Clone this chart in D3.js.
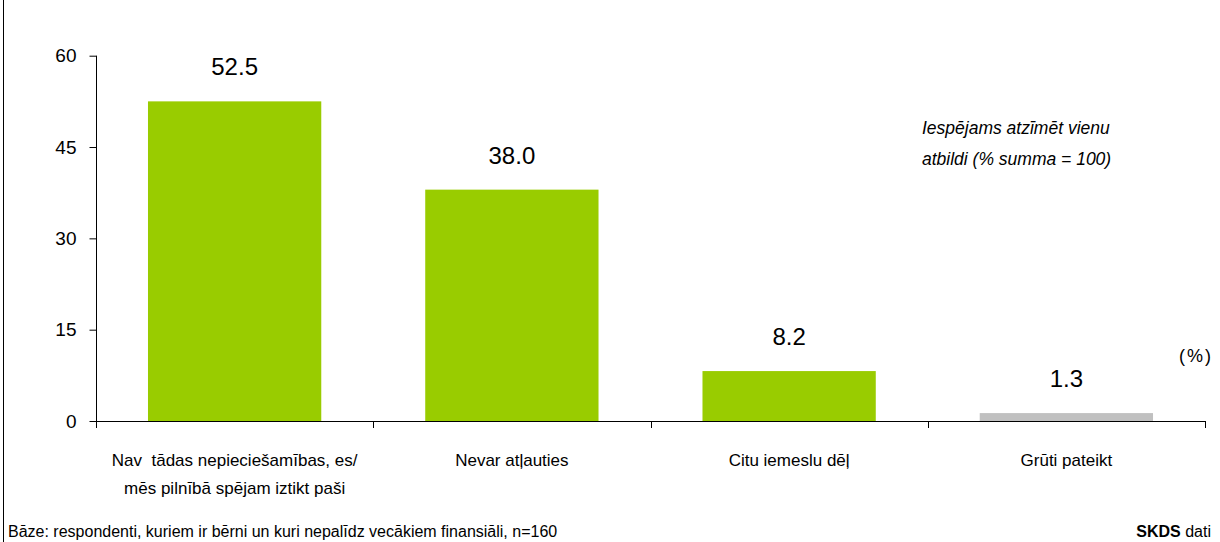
<!DOCTYPE html>
<html>
<head>
<meta charset="utf-8">
<script src="https://cdn.jsdelivr.net/npm/d3@7"></script>
<style>
  html, body { margin: 0; padding: 0; background: #fff; }
  svg { display: block; font-family: "Liberation Sans", Arial, sans-serif; }
</style>
</head>
<body>
<svg id="chart" width="1220" height="542"></svg>
<script>
const categories = [
  ["Nav  tādas nepieciešamības, es/", "mēs pilnībā spējam iztikt paši"],
  ["Nevar atļauties"],
  ["Citu iemeslu dēļ"],
  ["Grūti pateikt"]
];
const values = [52.5, 38.0, 8.2, 1.3];
const barColors = ["#99CC00", "#99CC00", "#99CC00", "#C0C0C0"];
const yTicks = [0, 15, 30, 45, 60];
const noteLines = ["Iespējams atzīmēt vienu", "atbildi (% summa = 100)"];
const unitLabel = "(%)";
const footerLeft = "Bāze: respondenti, kuriem ir bērni un kuri nepalīdz vecākiem finansiāli, n=160";

const svg = d3.select("#chart");
const plotLeft = 96, plotRight = 1205, plotTop = 55.7, plotBottom = 421;

const x = d3.scaleBand().domain(d3.range(values.length))
  .range([plotLeft, plotRight]).paddingInner(0.375).paddingOuter(0.1875);
const y = d3.scaleLinear().domain([0, 60]).range([plotBottom, plotTop]);

// left frame line
svg.append("line").attr("x1", 3.5).attr("x2", 3.5).attr("y1", 0).attr("y2", 542)
  .attr("stroke", "#000").attr("stroke-width", 1);

// bars
svg.selectAll("rect.bar").data(values).join("rect")
  .attr("class", "bar")
  .attr("x", (d, i) => x(i))
  .attr("width", x.bandwidth())
  .attr("y", d => y(d))
  .attr("height", d => y(0) - y(d))
  .attr("fill", (d, i) => barColors[i]);

// y axis
const yAxis = d3.axisLeft(y).tickValues(yTicks).tickSize(7).tickPadding(13).tickSizeOuter(0);
const gy = svg.append("g").attr("transform", `translate(${plotLeft + 0.5},0)`).call(yAxis);
gy.select(".domain").remove();
gy.append("line").attr("x1", 0).attr("x2", 0).attr("y1", plotTop).attr("y2", plotBottom + 7)
  .attr("stroke", "#000");
gy.selectAll(".tick line").attr("stroke", "#000");
gy.selectAll(".tick text").attr("font-size", 19).attr("fill", "#000")
  .attr("font-family", "Liberation Sans, Arial, sans-serif");

// x axis line and ticks at band boundaries
svg.append("line").attr("x1", plotLeft).attr("x2", plotRight).attr("y1", plotBottom + 0.5).attr("y2", plotBottom + 0.5)
  .attr("stroke", "#000");
const boundaries = d3.range(1, values.length + 1).map(i => i === values.length ? plotRight : x(i) - x.step() * x.paddingInner() / 2);
svg.selectAll("line.xt").data(boundaries).join("line")
  .attr("class", "xt")
  .attr("x1", d => Math.round(d) + 0.5).attr("x2", d => Math.round(d) + 0.5)
  .attr("y1", plotBottom).attr("y2", plotBottom + 7)
  .attr("stroke", "#000");

// category labels
const catG = svg.selectAll("text.cat").data(categories).join("text")
  .attr("class", "cat")
  .attr("text-anchor", "middle")
  .attr("font-size", 17)
  .attr("fill", "#000")
  .style("white-space", "pre");
catG.each(function(lines, i) {
  d3.select(this).selectAll("tspan").data(lines).join("tspan")
    .attr("x", x(i) + x.bandwidth() / 2)
    .attr("y", (d, j) => 466 + j * 28)
    .text(d => d);
});

// value labels
svg.selectAll("text.val").data(values).join("text")
  .attr("class", "val")
  .attr("text-anchor", "middle")
  .attr("font-size", 24)
  .attr("fill", "#000")
  .attr("x", (d, i) => x(i) + x.bandwidth() / 2)
  .attr("y", d => y(d) - 26)
  .text(d => d.toFixed(1));

// note
svg.selectAll("text.note").data(noteLines).join("text")
  .attr("class", "note")
  .attr("x", 922)
  .attr("y", (d, i) => 134 + i * 31)
  .attr("font-size", 17.5)
  .attr("font-style", "italic")
  .attr("fill", "#000")
  .text(d => d);

// unit
svg.append("text").attr("x", 1196).attr("y", 362).attr("text-anchor", "middle")
  .attr("font-size", 18).attr("letter-spacing", 2).attr("fill", "#000").text(unitLabel);

// footer
svg.append("text").attr("x", 8).attr("y", 537).attr("font-size", 16).attr("fill", "#000")
  .text(footerLeft);
const fr = svg.append("text").attr("x", 1211).attr("y", 537).attr("text-anchor", "end")
  .attr("font-size", 16).attr("fill", "#000");
fr.append("tspan").attr("font-weight", "bold").text("SKDS");
fr.append("tspan").text(" dati");
</script>
</body>
</html>
